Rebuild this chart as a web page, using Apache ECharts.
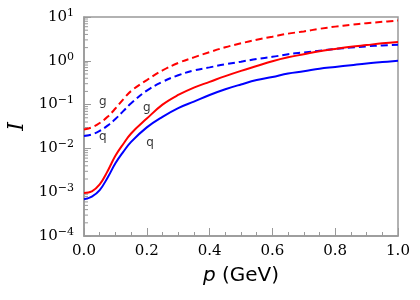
<!DOCTYPE html>
<html><head><meta charset="utf-8">
<script src="https://cdn.jsdelivr.net/npm/echarts@6/dist/echarts.min.js"></script>
<style>html,body{margin:0;padding:0;background:#fff}#c{width:420px;height:300px}</style>
</head><body><div id="c"></div>
<script>
var pValues = [0, 0.025, 0.05, 0.075, 0.1, 0.125, 0.15, 0.2, 0.25, 0.3, 0.35, 0.4, 0.45, 0.5, 0.55, 0.6, 0.65, 0.7, 0.75, 0.8, 0.85, 0.9, 0.95, 1.0];
var gSolid = [9.55e-4, 1.05e-3, 1.51e-3, 3.02e-3, 6.76e-3, 0.0126, 0.0219, 0.0479, 0.100, 0.166, 0.245, 0.331, 0.447, 0.589, 0.759, 0.977, 1.20, 1.41, 1.66, 1.86, 2.09, 2.29, 2.51, 2.69];
var qSolid = [6.92e-4, 7.94e-4, 1.12e-3, 2.14e-3, 4.57e-3, 8.32e-3, 0.0141, 0.0302, 0.0525, 0.0832, 0.117, 0.166, 0.224, 0.288, 0.363, 0.427, 0.513, 0.575, 0.661, 0.724, 0.794, 0.871, 0.933, 1.0];
var gDashed = [0.0269, 0.0302, 0.0380, 0.0525, 0.0813, 0.132, 0.204, 0.363, 0.603, 0.891, 1.20, 1.58, 2.04, 2.51, 3.02, 3.55, 4.17, 4.68, 5.37, 6.03, 6.61, 7.24, 7.76, 8.32];
var qDashed = [0.0191, 0.0209, 0.0251, 0.0331, 0.0468, 0.0708, 0.107, 0.209, 0.331, 0.468, 0.603, 0.708, 0.832, 0.955, 1.10, 1.23, 1.41, 1.55, 1.70, 1.86, 2.00, 2.14, 2.24, 2.34];
var labelText = ['g', 'g', 'q', 'q'];
var labelP = [0.06, 0.20, 0.06, 0.21];
var labelI = [0.115, 0.083, 0.018, 0.0132];
var xTicks = ['0.0', '0.2', '0.4', '0.6', '0.8', '1.0'];
var minorDecades = [1e-4, 1e-3, 1e-2, 1e-1, 1];
var minorMultipliers = [2, 3, 4, 5, 6, 7, 8, 9];

function pairs(ys) { return pValues.map(function (p, i) { return [p, ys[i]]; }); }
var minorTickValues = [];
minorDecades.forEach(function (d) { minorMultipliers.forEach(function (m) { minorTickValues.push([0, m * d]); }); });

function yFmt(v) {
  var e = Math.round(Math.log10(v));
  var s = String(e).replace('-', '\u2212');
  return '{b|10}{s|' + s + '}';
}
var axisColor = '#999999';
var chart = echarts.init(document.getElementById('c'), null, {renderer: 'canvas'});
chart.setOption({
  animation: false,
  grid: {left: 84, right: 22, top: 17, bottom: 64, show: true, borderColor: axisColor, borderWidth: 1.5,
    backgroundColor: 'transparent', outerBoundsMode: 'none', containLabel: false},
  xAxis: {
    type: 'value', min: 0, max: 1, interval: 0.2,
    axisLine: {show: true, lineStyle: {color: axisColor, width: 1.5}},
    axisTick: {show: true, inside: true, length: 8, lineStyle: {color: axisColor, width: 1}},
    minorTick: {show: true, splitNumber: 4, length: 4, lineStyle: {color: axisColor, width: 1}},
    splitLine: {show: false},
    axisLabel: {color: '#000', fontFamily: 'DejaVu Serif', fontSize: 15, margin: 8,
      formatter: function (v) { return xTicks[Math.round(v / 0.2)]; }},
    name: '{i|p} (GeV)', nameLocation: 'middle', nameGap: 30,
    nameTextStyle: {color: '#000', fontFamily: 'DejaVu Sans', fontSize: 20,
      rich: {i: {fontFamily: 'DejaVu Sans', fontStyle: 'italic', fontSize: 20, color: '#000'}}}
  },
  yAxis: {
    type: 'log', min: 1e-4, max: 10, logBase: 10,
    axisLine: {show: true, lineStyle: {color: axisColor, width: 1.5}},
    axisTick: {show: true, inside: true, length: 7, lineStyle: {color: axisColor, width: 1}},
    minorTick: {show: false},
    splitLine: {show: false},
    axisLabel: {color: '#000', margin: 10, formatter: yFmt,
      rich: {b: {fontFamily: 'DejaVu Serif', fontSize: 15, color: '#000'},
             s: {fontFamily: 'DejaVu Serif', fontSize: 11, color: '#000', verticalAlign: 'top', padding: [0, 0, 8, 0]}}},
    name: 'I', nameLocation: 'middle', nameGap: 45,
    nameTextStyle: {color: '#000', fontFamily: 'DejaVu Serif', fontStyle: 'italic', fontSize: 22}
  },
  series: [
    {type: 'custom', silent: true, data: minorTickValues, z: 1,
      renderItem: function (params, api) {
        var pt = api.coord([api.value(0), api.value(1)]);
        return {type: 'line', shape: {x1: pt[0], y1: pt[1], x2: pt[0] + 4, y2: pt[1]},
          style: {stroke: axisColor, lineWidth: 1}};
      }},
    {type: 'line', data: pairs(gDashed), showSymbol: false, smooth: 0.4, lineStyle: {color: '#ff0000', width: 2, type: [7, 4]}},
    {type: 'line', data: pairs(qDashed), showSymbol: false, smooth: 0.4, lineStyle: {color: '#0000ff', width: 2, type: [7, 4]}},
    {type: 'line', data: pairs(gSolid), showSymbol: false, smooth: 0.4, lineStyle: {color: '#ff0000', width: 2}},
    {type: 'line', data: pairs(qSolid), showSymbol: false, smooth: 0.4, lineStyle: {color: '#0000ff', width: 2}},
    {type: 'scatter', symbolSize: 0, silent: true,
      data: labelText.map(function (t, i) { return {value: [labelP[i], labelI[i]], name: t}; }),
      label: {show: true, position: 'inside', formatter: '{b}', color: '#000', fontFamily: 'DejaVu Sans', fontSize: 12}}
  ]
});
</script></body></html>
